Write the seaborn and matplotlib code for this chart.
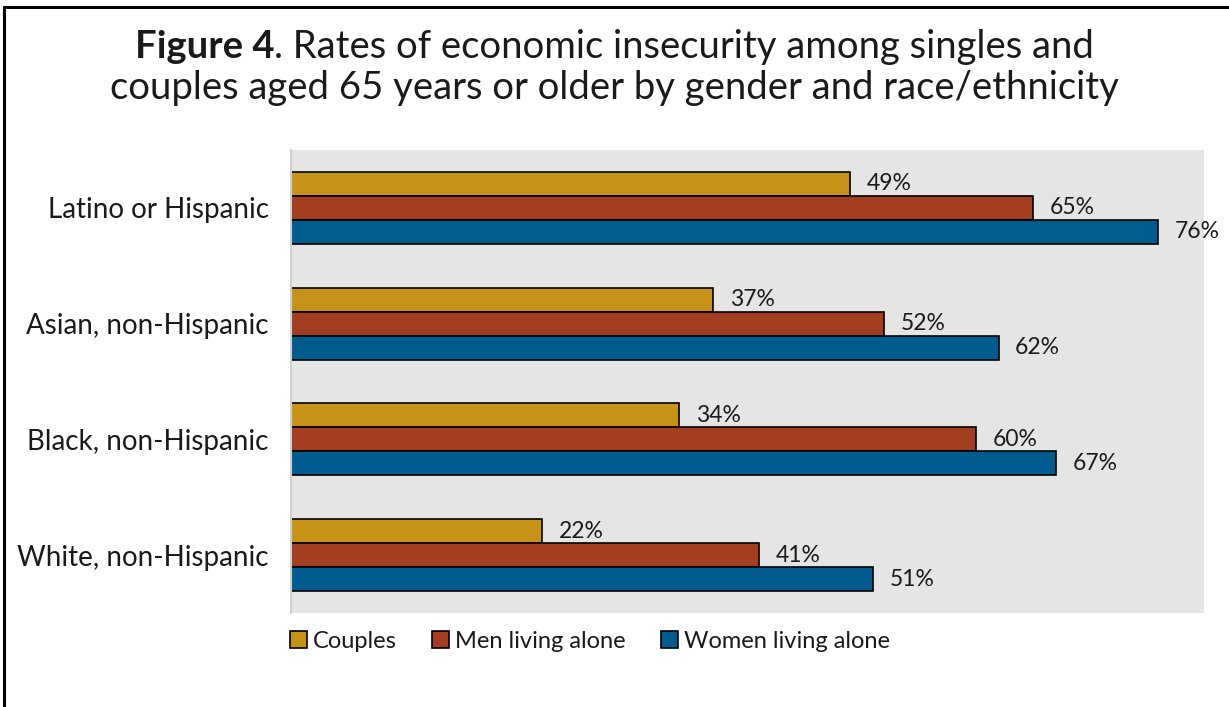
import matplotlib
matplotlib.use("Agg")
import matplotlib.pyplot as plt
from matplotlib.lines import Line2D
import seaborn as sns
import pandas as pd

categories = ["Latino or Hispanic", "Asian, non-Hispanic", "Black, non-Hispanic", "White, non-Hispanic"]
series_names = ["Couples", "Men living alone", "Women living alone"]
couples = [49, 37, 34, 22]
men_alone = [65, 52, 60, 41]
women_alone = [76, 62, 67, 51]
colors = ["#C69318", "#A33E20", "#005B8E"]
title_bold = "Figure 4"
title_rest = ". Rates of economic insecurity among singles and"
title_line2 = "couples aged 65 years or older by gender and race/ethnicity"

rows = []
for name, vals in zip(series_names, [couples, men_alone, women_alone]):
    for c, v in zip(categories, vals):
        rows.append({"group": c, "series": name, "value": v})
df = pd.DataFrame(rows)

sns.set_theme(style="white")
plt.rcParams["font.family"] = ["Lato", "DejaVu Sans"]

W, H = 1229, 707
fig = plt.figure(figsize=(W / 100, H / 100), dpi=100)
ax = fig.add_axes([291 / W, 1 - 613 / H, (1204 - 291) / W, (613 - 150) / H])
ax.set_facecolor("#E5E5E5")

sns.barplot(data=df, y="group", x="value", hue="series", order=categories,
            hue_order=series_names, palette=colors, orient="h", width=0.62,
            edgecolor="black", linewidth=1.2, ax=ax, legend=False, saturation=1)

for cont, vals in zip(ax.containers, [couples, men_alone, women_alone]):
    ax.bar_label(cont, labels=[f"{v}%" for v in vals], padding=12,
                 fontsize=16.5, color="#1a1a1a")

ax.set_xlim(0, 80)
ax.set_ylim(3.5, -0.5)
ax.set_xlabel("")
ax.set_ylabel("")
ax.set_xticks([])
ax.tick_params(axis="y", length=0, pad=16, labelsize=20, labelcolor="#1a1a1a")
for s in ["top", "right", "bottom"]:
    ax.spines[s].set_visible(False)
ax.spines["left"].set_color("#D0D0D0")
ax.spines["left"].set_linewidth(1.5)

# Title: bold lead-in + regular remainder, centred together
tsize = 27.5
renderer = fig.canvas.get_renderer()
tb = fig.text(0, 1 - 47 / H, title_bold, fontsize=tsize, fontweight="bold",
              ha="left", va="center", color="#1a1a1a")
tr = fig.text(0, 1 - 47 / H, title_rest, fontsize=tsize, ha="left", va="center", color="#1a1a1a")
wb = tb.get_window_extent(renderer).width
wr = tr.get_window_extent(renderer).width
x0 = (W - (wb + wr)) / 2
tb.set_x(x0 / W)
tr.set_x((x0 + wb) / W)
fig.text(0.5, 1 - 88 / H, title_line2, ha="center", va="center", fontsize=tsize, color="#1a1a1a")

handles = [plt.Rectangle((0, 0), 1, 1, facecolor=c, edgecolor="black", linewidth=1.2) for c in colors]
fig.legend(handles, series_names, loc="center", bbox_to_anchor=(590 / W, 1 - 641 / H),
           ncol=3, frameon=False, fontsize=17, handlelength=0.72, handleheight=0.72,
           handletextpad=0.25, columnspacing=1.5, labelcolor="#1a1a1a")

fig.add_artist(Line2D([4 / W, 4 / W], [0, 1 - 7 / H], transform=fig.transFigure, color="black", linewidth=2.2))
fig.add_artist(Line2D([4 / W, 1], [1 - 7 / H, 1 - 7 / H], transform=fig.transFigure, color="black", linewidth=2.2))

fig.savefig("out.png", dpi=100)
